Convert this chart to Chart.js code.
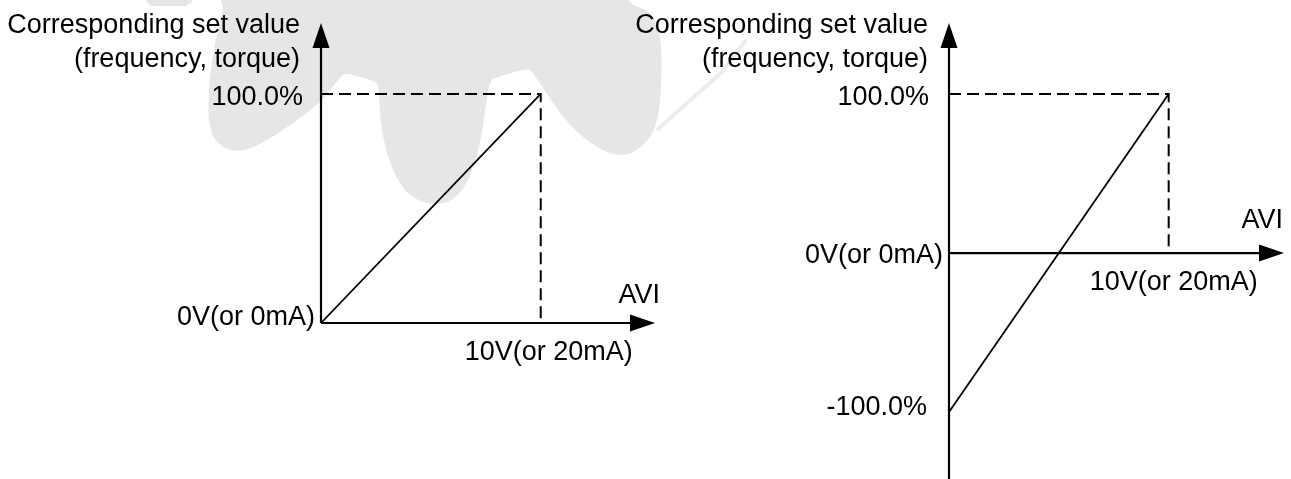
<!DOCTYPE html>
<html>
<head>
<meta charset="utf-8">
<script src="https://cdn.jsdelivr.net/npm/chart.js@4.4.1/dist/chart.umd.min.js"></script>
<style>
  html, body { margin: 0; padding: 0; background: #fff; }
  body { width: 1291px; height: 479px; position: relative; overflow: hidden; }
  #wrapLeft { position: absolute; left: 0; top: 0; width: 760px; height: 479px; }
  #wrapRight { position: absolute; left: 596px; top: 0; width: 695px; height: 479px; }
</style>
</head>
<body>
<div id="wrapLeft"><canvas id="chartLeft" width="760" height="479"></canvas></div>
<div id="wrapRight"><canvas id="chartRight" width="695" height="479"></canvas></div>
<script>
// analog input AVI (V) against the set value (%)
const inputVolts = [0, 10];
const setValueUnipolar = [0, 100];
const setValueBipolar = [-100, 100];

// dashed guide: across at 100% to the 10V point, then down to the axis
const guideVolts = [0, 10, 10];
const guideValues = [100, 100, 0];

const yTicksUnipolar = [100, 0];
const yLabelsUnipolar = ['100.0%', '0V(or 0mA)'];
const yTicksBipolar = [100, 0, -100];
const yLabelsBipolar = ['100.0%', '0V(or 0mA)', '-100.0%'];
const xTicks = [10];
const xLabels = ['10V(or 20mA)'];
const yTitle = ['Corresponding set value', '(frequency, torque)'];
const xTitle = 'AVI';

const FONT = '27px "Liberation Sans", Arial, sans-serif';

const toPoints = (xs, ys) => xs.map((v, i) => ({ x: v, y: ys[i] }));

// draws a filled arrow head with its tip at (x, y)
function arrowHead(ctx, x, y, dir) {
  const len = 25, half = 8.5;
  ctx.beginPath();
  if (dir === 'right') {
    ctx.moveTo(x, y);
    ctx.lineTo(x - len, y - half);
    ctx.lineTo(x - len, y + half);
  } else {
    ctx.moveTo(x, y);
    ctx.lineTo(x - half, y + len);
    ctx.lineTo(x + half, y + len);
  }
  ctx.closePath();
  ctx.fill();
}

// axes through the origin with arrows, plus the hand placed labels
const diagramAxes = {
  id: 'diagramAxes',
  beforeDatasetsDraw(chart, args, opts) {
    const { ctx, scales: { x, y } } = chart;
    const ox = x.getPixelForValue(0);
    const oy = y.getPixelForValue(0);
    ctx.save();
    ctx.strokeStyle = '#000';
    ctx.fillStyle = '#000';
    ctx.lineWidth = 2.2;
    ctx.beginPath();
    ctx.moveTo(ox, oy);
    ctx.lineTo(x.right - 20, oy);
    ctx.stroke();
    arrowHead(ctx, x.right, oy, 'right');
    ctx.beginPath();
    ctx.moveTo(ox, y.bottom);
    ctx.lineTo(ox, y.top + 20);
    ctx.stroke();
    arrowHead(ctx, ox, y.top, 'up');
    ctx.restore();
  },
  afterDraw(chart, args, opts) {
    const { ctx, scales: { x, y } } = chart;
    const ox = x.getPixelForValue(0);
    const oy = y.getPixelForValue(0);
    ctx.save();
    ctx.fillStyle = '#000';
    ctx.font = FONT;
    ctx.textBaseline = 'alphabetic';

    ctx.textAlign = 'right';
    opts.yTicks.forEach((v, i) => {
      ctx.fillText(opts.yLabels[i], ox - opts.yGap[i], y.getPixelForValue(v) + opts.yShift[i]);
    });
    yTitle.forEach((line, i) => {
      ctx.fillText(line, ox - 21, opts.titleBaselines[i]);
    });
    ctx.fillText(xTitle, x.right + opts.xTitleDx, oy - opts.xTitleRise);

    ctx.textAlign = 'center';
    opts.xTicks.forEach((v, i) => {
      ctx.fillText(opts.xLabels[i], x.getPixelForValue(v) + opts.xShift, oy + 37);
    });
    ctx.restore();
  }
};

// smooth closed outline through the given points (midpoint quadratics)
function smoothShape(ctx, pts) {
  const n = pts.length;
  const mid = (a, b) => [(a[0] + b[0]) / 2, (a[1] + b[1]) / 2];
  ctx.beginPath();
  const start = mid(pts[n - 1], pts[0]);
  ctx.moveTo(start[0], start[1]);
  for (let i = 0; i < n; i++) {
    const p = pts[i];
    const m = mid(p, pts[(i + 1) % n]);
    ctx.quadraticCurveTo(p[0], p[1], m[0], m[1]);
  }
  ctx.closePath();
}

// light gear shaped watermark behind the left diagram
const watermark = {
  id: 'watermark',
  beforeDraw(chart) {
    const ctx = chart.ctx;
    const body = [
      [160, -30], [228, -6], [216, 35], [209, 80], [208, 126], [218, 146], [240, 153], [265, 142],
      [295, 122], [322, 101], [341, 76], [346, 73], [376, 81], [379, 88], [380, 120], [386, 152],
      [398, 182], [413, 199], [438, 206], [458, 197], [472, 174], [482, 136], [487, 96],
      [490, 81], [494, 78], [528, 68], [532, 72], [542, 86], [563, 118], [590, 144], [620, 158],
      [642, 148], [657, 127], [662, 83], [661, 33], [650, 10], [627, 4], [620, -30]
    ];
    const sliver = [[140, -10], [196, -10], [192, 2], [186, 6], [150, 6]];
    ctx.save();
    ctx.fillStyle = '#e6e6e6';
    smoothShape(ctx, body);
    ctx.fill();
    ctx.beginPath();
    sliver.forEach(([px, py], i) => (i ? ctx.lineTo(px, py) : ctx.moveTo(px, py)));
    ctx.closePath();
    ctx.fill();
    ctx.strokeStyle = '#ececec';
    ctx.lineWidth = 4;
    ctx.lineJoin = 'round';
    ctx.beginPath();
    ctx.moveTo(657, 130);
    ctx.lineTo(722, 72);
    ctx.lineTo(746, 40);
    ctx.stroke();
    ctx.restore();
  }
};

function makeOptions(xMax, yMin, yMax, padding, axes) {
  return {
    responsive: false,
    animation: false,
    devicePixelRatio: 1,
    events: [],
    layout: { padding },
    plugins: { legend: { display: false }, tooltip: { enabled: false }, diagramAxes: axes },
    scales: {
      x: { type: 'linear', min: 0, max: xMax, display: false },
      y: { type: 'linear', min: yMin, max: yMax, display: false }
    }
  };
}

const lineStyle = { borderColor: '#000', borderWidth: 1.8, pointRadius: 0, fill: false, clip: false, tension: 0 };
const guideStyle = { borderColor: '#000', borderWidth: 2, borderDash: [12, 6], pointRadius: 0, fill: false, clip: false, tension: 0 };

new Chart(document.getElementById('chartLeft'), {
  type: 'line',
  data: {
    datasets: [
      { ...lineStyle, data: toPoints(inputVolts, setValueUnipolar) },
      { ...guideStyle, data: toPoints(guideVolts, guideValues) }
    ]
  },
  options: makeOptions(15.2, 0, 131, { left: 321, right: 105, top: 23, bottom: 156 }, {
    yTicks: yTicksUnipolar, yLabels: yLabelsUnipolar, yGap: [18, 6], yShift: [11.5, 2],
    xTicks, xLabels, xShift: 8, xTitleDx: 5, xTitleRise: 20, titleBaselines: [32.5, 66.5]
  }),
  plugins: [watermark, diagramAxes]
});

new Chart(document.getElementById('chartRight'), {
  type: 'line',
  data: {
    datasets: [
      { ...lineStyle, data: toPoints(inputVolts, setValueBipolar) },
      { ...guideStyle, data: toPoints(guideVolts, guideValues) }
    ]
  },
  options: makeOptions(15.25, -142.1, 144.65, { left: 353, right: 7, top: 23, bottom: 0 }, {
    yTicks: yTicksBipolar, yLabels: yLabelsBipolar, yGap: [20, 6, 22], yShift: [11, 9.5, 3.3],
    xTicks, xLabels, xShift: 5, xTitleDx: -1, xTitleRise: 25, titleBaselines: [32.5, 66.5]
  }),
  plugins: [diagramAxes]
});
</script>
</body>
</html>
